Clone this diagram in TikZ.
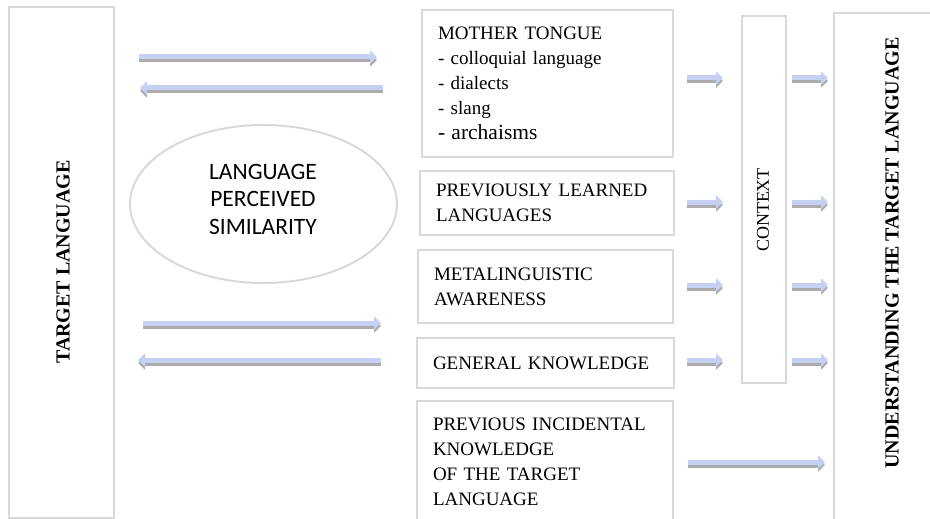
\documentclass[tikz,border=0pt]{standalone}
\usepackage{fontspec}
\setmainfont{Liberation Serif}
\newfontfamily\calib{Carlito}
\usetikzlibrary{arrows.meta,shapes.geometric}
\definecolor{boxgray}{RGB}{217,217,217}
\definecolor{arrowblue}{RGB}{198,208,242}
\definecolor{shadowgray}{RGB}{172,172,172}
\tikzset{
  box/.style={draw=boxgray, line width=2.5pt, rectangle, inner sep=0pt, align=left,
    font=\fontsize{19}{25}\selectfont},
  vbox/.style={draw=boxgray, line width=2.5pt, rectangle, inner sep=0pt},
  vtext/.style={rotate=90, font=\bfseries\fontsize{20}{24}\selectfont, inner sep=0pt},
  blockarrow/.style={line width=5pt, draw=arrowblue, -{Triangle[length=7pt,width=13pt]},
    preaction={draw=shadowgray, line width=5pt, transform canvas={yshift=-3pt}}}
}
\begin{document}
\begin{tikzpicture}[x=1pt,y=-1pt]
\useasboundingbox (0,0) rectangle (930,519);

% left box
\node[vbox, minimum width=105pt, minimum height=511pt] (tl) at (61.5,262.5) {};
\node[vtext] (tltext) at (63,262) {TARGET LANGUAGE};

% ellipse
\node[ellipse, draw=boxgray, line width=2pt, minimum width=267pt, minimum height=158pt, inner sep=0pt] (ell) at (263.5,204) {};
\node[font=\calib\fontsize{23.5}{27.5}\selectfont, align=center, inner sep=0pt] (elltext) at (263,199) {LANGUAGE\\PERCEIVED\\SIMILARITY};

% middle boxes
\node[box, minimum width=251pt, minimum height=147pt, text width=219pt] (mt) at (547.5,83.5)
  {MOTHER TONGUE\\- colloquial language\\- dialects\\- slang\\{\fontsize{21.5}{25}\selectfont - archaisms}};
\node[box, minimum width=254pt, minimum height=64pt, text width=222pt] (pl) at (547,203)
  {PREVIOUSLY LEARNED\\LANGUAGES};
\node[box, minimum width=255pt, minimum height=73pt, text width=223pt] (ma) at (545.5,286.5)
  {METALINGUISTIC\\AWARENESS};
\node[box, minimum width=257pt, minimum height=50pt, text width=225pt] (gk) at (545.5,363)
  {GENERAL KNOWLEDGE};
\node[box, minimum width=256pt, minimum height=122pt, text width=224pt] (pi) at (545,462)
  {PREVIOUS INCIDENTAL\\KNOWLEDGE\\OF THE TARGET\\LANGUAGE};

% context
\node[vbox, minimum width=44pt, minimum height=367pt] (ctx) at (764,199.5) {};
\node[rotate=90, font=\fontsize{18}{22}\selectfont, inner sep=0pt] (ctxtext) at (763,210) {CONTEXT};

% understanding
\node[vbox, minimum width=111pt, minimum height=517pt] (ut) at (889.5,271.5) {};
\node[vtext] (uttext) at (892,253) {UNDERSTANDING THE TARGET LANGUAGE};

% arrow end points
\coordinate (a1s) at (139,57);  \coordinate (a1e) at (377,57);
\coordinate (a2s) at (383,88);  \coordinate (a2e) at (140,88);
\coordinate (a3s) at (143,323); \coordinate (a3e) at (381,323);
\coordinate (a4s) at (381,360); \coordinate (a4e) at (138,360);

\foreach \y [count=\i] in {78,202,285,360}{
  \coordinate (l\i s) at (687,\y); \coordinate (l\i e) at (723,\y);
  \coordinate (r\i s) at (792,\y); \coordinate (r\i e) at (828,\y);
}
\coordinate (bs) at (688,462); \coordinate (be) at (825,462);

\draw[blockarrow] (a1s) -- (a1e);
\draw[blockarrow] (a2s) -- (a2e);
\draw[blockarrow] (a3s) -- (a3e);
\draw[blockarrow] (a4s) -- (a4e);
\foreach \i in {1,...,4}{
  \draw[blockarrow] (l\i s) -- (l\i e);
  \draw[blockarrow] (r\i s) -- (r\i e);
}
\draw[blockarrow] (bs) -- (be);
\end{tikzpicture}
\end{document}
